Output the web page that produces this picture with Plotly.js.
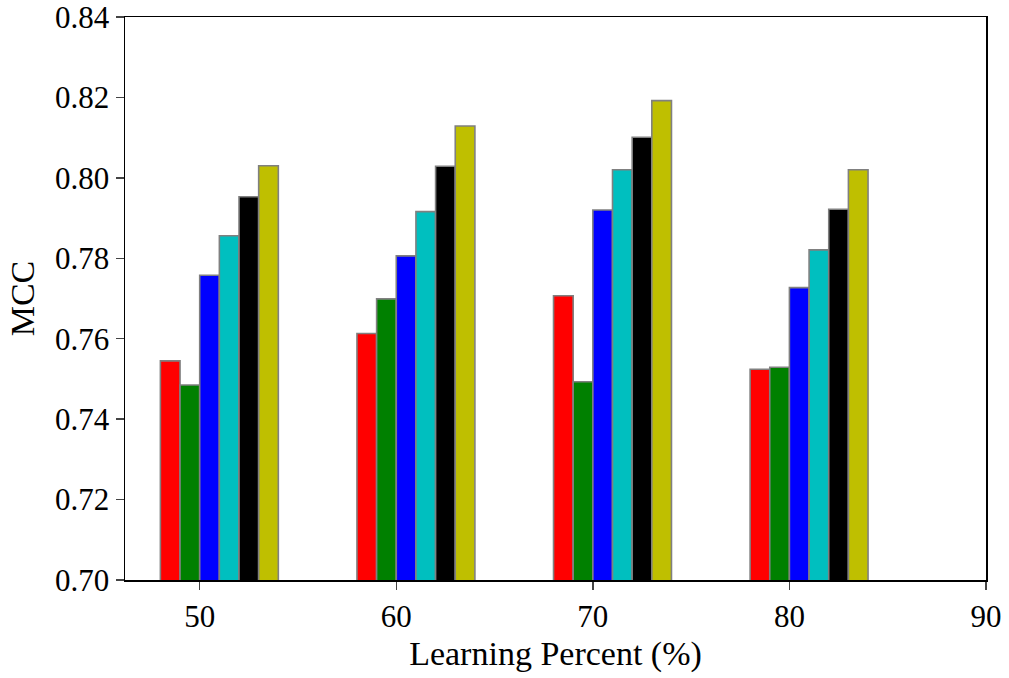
<!DOCTYPE html>
<html>
<head>
<meta charset="utf-8">
<script src="https://cdn.plot.ly/plotly-3.0.1.min.js"></script>
<style>
  body { margin: 0; background: #fff; }
  #chart { width: 1009px; height: 678px; }
</style>
</head>
<body>
<div id="chart"></div>
<script>
var groups = [50, 60, 70, 80];
var tickValues = [50, 60, 70, 80, 90];

var redVals    = [0.7545, 0.7613, 0.7707, 0.7524];
var greenVals  = [0.7485, 0.7699, 0.7493, 0.7529];
var blueVals   = [0.7758, 0.7806, 0.7920, 0.7727];
var cyanVals   = [0.7856, 0.7916, 0.8020, 0.7821];
var blackVals  = [0.7953, 0.8029, 0.8101, 0.7922];
var yellowVals = [0.8030, 0.8129, 0.8192, 0.8020];

var series = [
    { y: redVals, color: '#ff0000', offset: -2 },
    { y: greenVals, color: '#008000', offset: -1 },
    { y: blueVals, color: '#0000ff', offset: 0 },
    { y: cyanVals, color: '#00bfbf', offset: 1 },
    { y: blackVals, color: '#000000', offset: 2 },
    { y: yellowVals, color: '#bfbf00', offset: 3 }
];

var data = series.map(function (s) {
    return {
        type: 'bar',
        x: groups,
        y: s.y,
        base: 0,
        width: 1,
        offset: s.offset,
        showlegend: false,
        hoverinfo: 'y',
        marker: {
            color: s.color,
            line: { color: '#808080', width: 1.6 }
        }
    };
});

var tickFont = { family: 'Liberation Serif', size: 31, color: '#000' };
var titleFont = { family: 'Liberation Serif', size: 34, color: '#000' };

var layout = {
    width: 1009,
    height: 678,
    margin: { l: 125, r: 23, t: 17, b: 98 },
    barmode: 'overlay',
    paper_bgcolor: '#fff',
    plot_bgcolor: '#fff',
    font: tickFont,
    xaxis: {
        range: [46.2, 90],
        tickvals: tickValues,
        ticktext: tickValues.map(String),
        ticks: 'outside',
        ticklen: 8,
        tickwidth: 1.5,
        showline: true,
        linecolor: '#000',
        linewidth: 1.5,
        mirror: true,
        showgrid: false,
        zeroline: false,
        ticklabeloverflow: 'allow',
        tickfont: tickFont,
        title: { text: 'Learning Percent (%)', font: titleFont, standoff: 8 }
    },
    yaxis: {
        range: [0.70, 0.84],
        dtick: 0.02,
        tick0: 0.70,
        tickformat: '.2f',
        ticks: 'outside',
        ticklen: 8,
        tickwidth: 1.5,
        showline: true,
        linecolor: '#000',
        linewidth: 1.5,
        mirror: true,
        showgrid: false,
        zeroline: false,
        ticklabeloverflow: 'allow',
        tickfont: tickFont,
        title: { text: 'MCC', font: titleFont, standoff: 10 }
    }
};

Plotly.newPlot('chart', data, layout, { displayModeBar: false, staticPlot: true });
</script>
</body>
</html>
